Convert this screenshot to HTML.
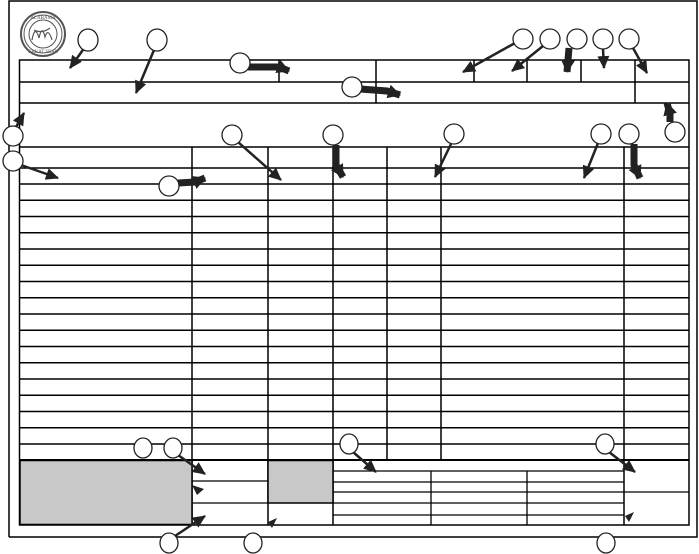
<!DOCTYPE html>
<html><head><style>html,body{margin:0;padding:0;background:#fff}svg{display:block}</style></head><body>
<svg width="699" height="554" viewBox="0 0 699 554" xmlns="http://www.w3.org/2000/svg">
<defs>
<marker id="a" markerUnits="userSpaceOnUse" markerWidth="14" markerHeight="12" refX="12" refY="6" orient="auto"><path d="M0,0 L13,6 L0,12 z" fill="#222"/></marker>
<marker id="b" markerUnits="userSpaceOnUse" markerWidth="14" markerHeight="16" refX="12" refY="8" orient="auto"><path d="M0,1 L13,8 L0,15 z" fill="#222"/></marker>
</defs>
<g stroke="#000" stroke-width="1.5" fill="none">
<polyline points="9,537 9,1 697,1 697,537 9,537"/>
<rect x="19.5" y="60" width="669.5" height="465"/>
<line x1="19.5" y1="82" x2="689" y2="82"/>
<line x1="19.5" y1="103" x2="689" y2="103"/>
<line x1="279" y1="60" x2="279" y2="82"/>
<line x1="376" y1="60" x2="376" y2="103"/>
<line x1="474" y1="60" x2="474" y2="82"/>
<line x1="527" y1="60" x2="527" y2="82"/>
<line x1="581" y1="60" x2="581" y2="82"/>
<line x1="635" y1="60" x2="635" y2="103"/>
<line x1="19.5" y1="147" x2="689" y2="147"/>
<line x1="19.5" y1="168" x2="689" y2="168"/>
<line x1="19.5" y1="184" x2="689" y2="184"/>
<line x1="19.5" y1="200.3" x2="689" y2="200.3"/>
<line x1="19.5" y1="216.5" x2="689" y2="216.5"/>
<line x1="19.5" y1="232.8" x2="689" y2="232.8"/>
<line x1="19.5" y1="249" x2="689" y2="249"/>
<line x1="19.5" y1="265.3" x2="689" y2="265.3"/>
<line x1="19.5" y1="281.5" x2="689" y2="281.5"/>
<line x1="19.5" y1="297.8" x2="689" y2="297.8"/>
<line x1="19.5" y1="314" x2="689" y2="314"/>
<line x1="19.5" y1="330.3" x2="689" y2="330.3"/>
<line x1="19.5" y1="346.5" x2="689" y2="346.5"/>
<line x1="19.5" y1="362.8" x2="689" y2="362.8"/>
<line x1="19.5" y1="379" x2="689" y2="379"/>
<line x1="19.5" y1="395.3" x2="689" y2="395.3"/>
<line x1="19.5" y1="411.5" x2="689" y2="411.5"/>
<line x1="19.5" y1="427.8" x2="689" y2="427.8"/>
<line x1="19.5" y1="444" x2="689" y2="444"/>
<line x1="19.5" y1="460" x2="689" y2="460" stroke-width="2"/>
<line x1="192" y1="147" x2="192" y2="525"/>
<line x1="268" y1="147" x2="268" y2="525"/>
<line x1="333" y1="147" x2="333" y2="525"/>
<line x1="387" y1="147" x2="387" y2="460"/>
<line x1="441" y1="147" x2="441" y2="460"/>
<line x1="624" y1="147" x2="624" y2="525"/>
</g>
<rect x="20" y="460.5" width="172" height="64" fill="#c8c8c8" stroke="#000" stroke-width="1.5"/>
<rect x="268" y="460.5" width="65" height="42.5" fill="#c8c8c8" stroke="#000" stroke-width="1.5"/>
<g stroke="#000" stroke-width="1.3">
<line x1="192" y1="481" x2="268" y2="481"/>
<line x1="192" y1="503" x2="268" y2="503"/>
<line x1="333" y1="471" x2="624" y2="471"/>
<line x1="333" y1="482" x2="624" y2="482"/>
<line x1="333" y1="492" x2="689" y2="492"/>
<line x1="333" y1="503" x2="624" y2="503"/>
<line x1="333" y1="515" x2="624" y2="515"/>
<line x1="431" y1="471" x2="431" y2="525"/>
<line x1="527" y1="471" x2="527" y2="525"/>
</g>
<!-- seal -->
<g fill="none" stroke="#555">
<circle cx="43" cy="34" r="22" stroke-width="2"/>
<circle cx="43" cy="34" r="19" stroke-width="1"/>
<circle cx="43" cy="34" r="14" stroke-width="1"/>
<path d="M32,40 q3,-16 7,-2 q3,-14 6,-1 q3,-10 7,3 M34,30 q8,4 16,-2" stroke-width="1.2"/>
</g>
<text x="43" y="19" font-family="Liberation Serif, serif" font-size="5" text-anchor="middle" fill="#555">ALABAMA</text>
<text x="43" y="53" font-family="Liberation Serif, serif" font-size="5" text-anchor="middle" fill="#555">GREAT SEAL</text>
<!-- thin arrows -->
<g stroke="#222" stroke-width="2.5" fill="none" marker-end="url(#a)">
<line x1="85" y1="47" x2="70" y2="68"/>
<line x1="154" y1="50" x2="136" y2="93"/>
<line x1="515" y1="43" x2="463" y2="72"/>
<line x1="543" y1="46" x2="512" y2="71"/>
<line x1="603" y1="49" x2="604" y2="68"/>
<line x1="633" y1="48" x2="647" y2="73"/>
<line x1="16" y1="127" x2="24" y2="113"/>
<line x1="21" y1="165" x2="58" y2="178"/>
<line x1="238" y1="142" x2="281" y2="180"/>
<line x1="451" y1="144" x2="435" y2="177"/>
<line x1="598" y1="143" x2="584" y2="178"/>
<line x1="178" y1="455" x2="205" y2="474"/>
<line x1="175" y1="536" x2="205" y2="516"/>
<line x1="353" y1="452" x2="376" y2="472"/>
<line x1="609" y1="452" x2="635" y2="472"/>
</g>
<g fill="#222">
<path d="M192,485 L204,489 L197,495 z"/>
<path d="M277,518 L268,522 L272,528 z"/>
<path d="M634,512 L625,516 L629,522 z"/>
</g>
<g stroke="#222" stroke-width="7" fill="none" marker-end="url(#b)">
<polyline points="248,67 279,67 289,71"/>
<polyline points="360,89 387,91 400,95"/>
<polyline points="569,48 568,60 567,72"/>
<polyline points="670,122 670,114 667,103"/>
<polyline points="336,145 336,165 343,177"/>
<polyline points="634,144 634,165 640,178"/>
<polyline points="178,183 195,182 205,178"/>
</g>
<g fill="#fff" stroke="#222" stroke-width="1.3">
<ellipse cx="88" cy="40" rx="10" ry="11"/>
<ellipse cx="157" cy="40" rx="10" ry="11"/>
<ellipse cx="240" cy="63" rx="10" ry="10"/>
<ellipse cx="352" cy="87" rx="10" ry="10"/>
<ellipse cx="523" cy="39" rx="10" ry="10"/>
<ellipse cx="550" cy="39" rx="10" ry="10"/>
<ellipse cx="577" cy="39" rx="10" ry="10"/>
<ellipse cx="603" cy="39" rx="10" ry="10"/>
<ellipse cx="629" cy="39" rx="10" ry="10"/>
<ellipse cx="13" cy="136" rx="10" ry="10"/>
<ellipse cx="13" cy="161" rx="10" ry="10"/>
<ellipse cx="232" cy="135" rx="10" ry="10"/>
<ellipse cx="333" cy="135" rx="10" ry="10"/>
<ellipse cx="454" cy="134" rx="10" ry="10"/>
<ellipse cx="601" cy="134" rx="10" ry="10"/>
<ellipse cx="629" cy="134" rx="10" ry="10"/>
<ellipse cx="675" cy="132" rx="10" ry="10"/>
<ellipse cx="169" cy="186" rx="10" ry="10"/>
<ellipse cx="143" cy="448" rx="9" ry="10"/>
<ellipse cx="173" cy="448" rx="9" ry="10"/>
<ellipse cx="349" cy="444" rx="9" ry="10"/>
<ellipse cx="605" cy="444" rx="9" ry="10"/>
<ellipse cx="169" cy="543" rx="9" ry="10"/>
<ellipse cx="253" cy="543" rx="9" ry="10"/>
<ellipse cx="606" cy="543" rx="9" ry="10"/>
</g>
</svg>
</body></html>
